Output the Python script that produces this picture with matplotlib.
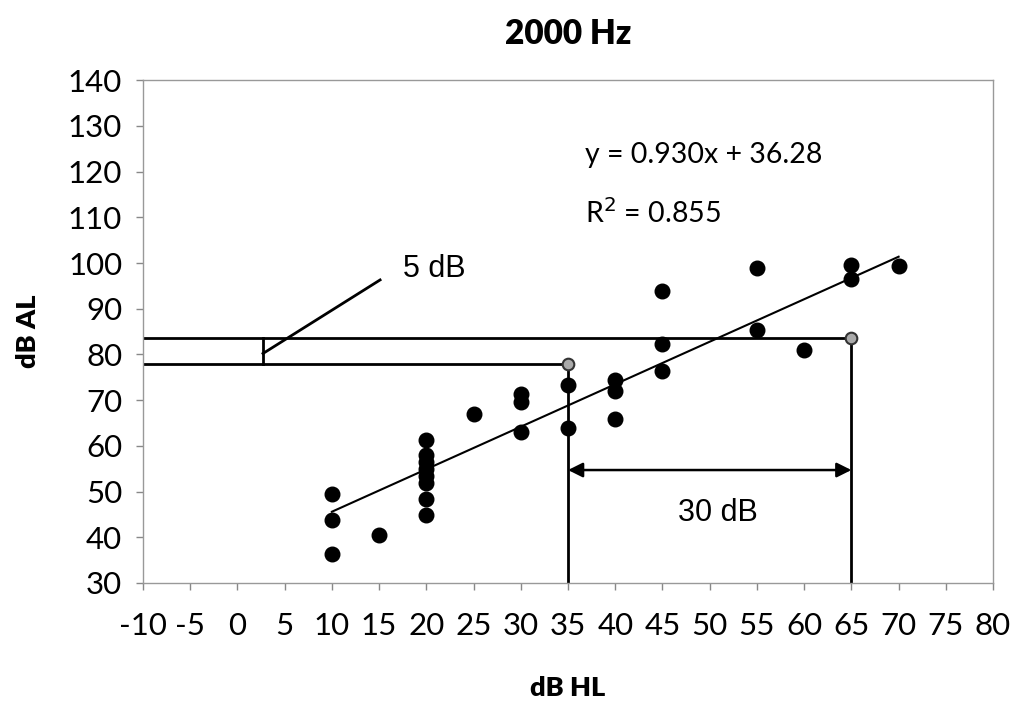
import matplotlib
matplotlib.use('Agg')
import matplotlib.pyplot as plt
import numpy as np

# measured points (dB HL, dB AL)
hl = [10, 10, 10, 15,
      20, 20, 20, 20, 20, 20, 20, 20,
      25, 30, 30, 30, 35, 35,
      40, 40, 40, 45, 45, 45,
      55, 55, 60, 65, 65, 70]
al = [49.5, 43.8, 36.4, 40.4,
      61.3, 57.9, 56.4, 55.0, 53.4, 51.9, 48.4, 44.9,
      67.0, 71.3, 69.5, 63.1, 73.3, 63.9,
      74.3, 71.9, 65.9, 93.9, 82.3, 76.4,
      98.9, 85.4, 81.0, 99.5, 96.4, 99.3]

# highlighted points used for the 30 dB / 5 dB construction
mark_hl = [35, 65]
mark_al = [77.9, 83.5]

slope, intercept, r2 = 0.930, 36.28, 0.855
fit_x = [10, 70]

xticks = list(range(-10, 81, 5))
yticks = list(range(30, 141, 10))

calibri = ['Lato', 'DejaVu Sans']
arial = ['Liberation Sans', 'DejaVu Sans']

fig = plt.figure(figsize=(10.18, 7.10), dpi=100)
ax = fig.add_axes([0.1405, 0.179, 0.835, 0.708])
ax.set_xlim(-10, 80)
ax.set_ylim(30, 140)
ax.set_xticks(xticks)
ax.set_yticks(yticks)
ax.set_xticklabels([str(t) for t in xticks], family=calibri, fontsize=22.5)
ax.set_yticklabels([str(t) for t in yticks], family=calibri, fontsize=22.5)
ax.tick_params(direction='out', length=5, width=1, color='#888888', pad=10)
ax.tick_params(axis='x', pad=16)
for s in ax.spines.values():
    s.set_color('#999999')
    s.set_linewidth(1)

fx = np.array(fit_x, dtype=float)
ax.plot(fx, slope * fx + intercept, color='black', lw=1.5, zorder=3)

# construction lines
ax.plot([-10, mark_hl[1]], [mark_al[1], mark_al[1]], color='black', lw=2, zorder=2)
ax.plot([-10, mark_hl[0]], [mark_al[0], mark_al[0]], color='black', lw=2, zorder=2)
ax.plot([mark_hl[0], mark_hl[0]], [30, mark_al[0]], color='black', lw=2, zorder=2)
ax.plot([mark_hl[1], mark_hl[1]], [30, mark_al[1]], color='black', lw=2, zorder=2)
ax.plot([2.7, 2.7], [mark_al[0], mark_al[1]], color='black', lw=2, zorder=2)
ax.plot([2.7, 15.1], [80.2, 96.3], color='black', lw=2, zorder=2)
ax.annotate('', xy=(mark_hl[0], 54.7), xytext=(mark_hl[1], 54.7),
            arrowprops=dict(arrowstyle='<|-|>', color='black', lw=1.8,
                            mutation_scale=22, shrinkA=0, shrinkB=0))

ax.scatter(hl, al, s=110, color='black', zorder=4)
ax.scatter(mark_hl, mark_al, s=70, color='#aaaaaa', edgecolors='#333333',
           linewidths=1.5, zorder=5)

ax.text(17.5, 98.7, '5 dB', family=arial, fontsize=22, va='center')
ax.text(50.9, 45.3, '30 dB', family=arial, fontsize=22, ha='center', va='center')
ax.text(36.8, 123.6, 'y = 0.930x + 36.28', family=calibri, fontsize=20.5, va='center')
ax.text(36.8, 110.9, 'R$^{2}$ = %.3f' % r2, family=calibri, fontsize=20.5, va='center')

ax.set_title('2000 Hz', family=calibri, fontsize=24, fontweight='heavy', pad=26)
ax.set_xlabel('dB HL', family=calibri, fontsize=19.5, fontweight='heavy', labelpad=26)
ax.set_ylabel('dB AL', family=calibri, fontsize=19.5, fontweight='heavy', labelpad=20)

fig.savefig('out.png', dpi=100)
